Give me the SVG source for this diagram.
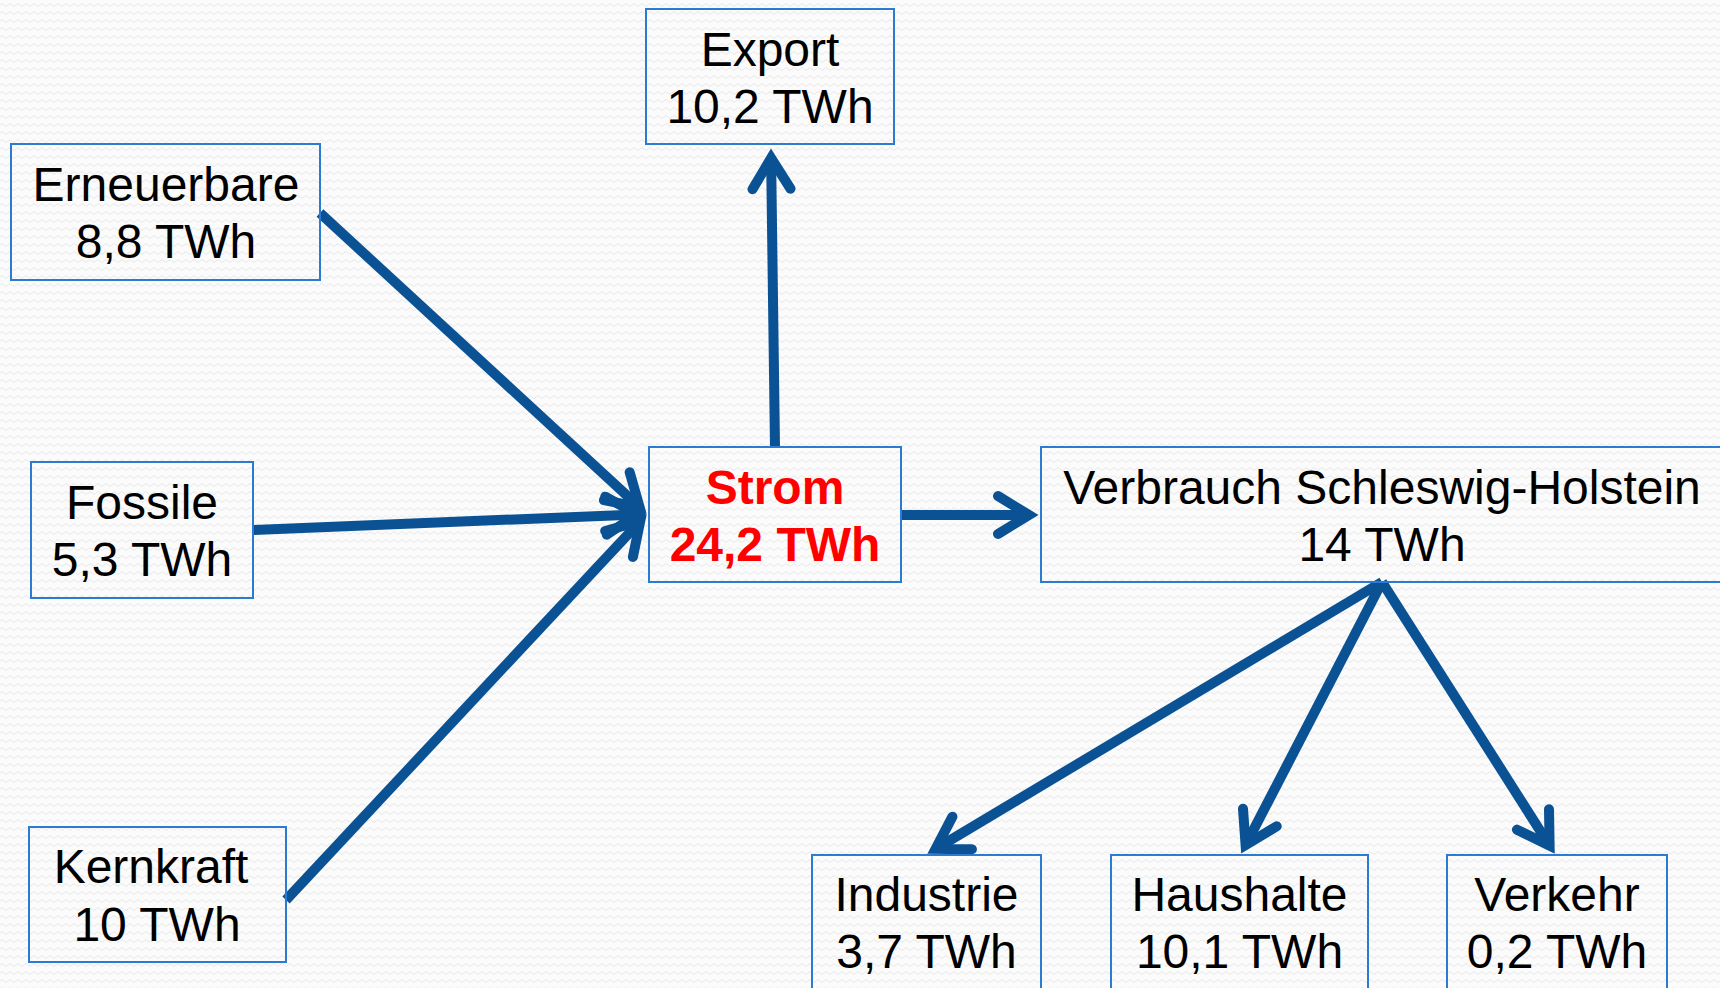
<svg xmlns="http://www.w3.org/2000/svg" width="1720" height="988" viewBox="0 0 1720 988">
<style>
.box{fill:none;stroke:#2b7bd3;stroke-width:2}
.t{font-family:"Liberation Sans",Arial,sans-serif;font-size:48px;fill:#000;text-anchor:middle}
.red{fill:#ff0000;font-weight:bold}
.con{stroke:#0a5294;stroke-width:10;fill:none;stroke-linecap:butt}
</style>
<defs>
<pattern id="bg" width="8" height="8" patternUnits="userSpaceOnUse">
<rect width="8" height="8" fill="#fbfbfb"/>
<path d="M0,5 Q2,2 4,5 T8,5" fill="none" stroke="#e8e8e8" stroke-width="1"/>
</pattern>
<marker id="ah" markerUnits="userSpaceOnUse" viewBox="-45 -30 70 60" refX="0" refY="0" markerWidth="70" markerHeight="60" orient="auto" overflow="visible">
<path d="M-31,-19 L0,0 L-31,19" fill="none" stroke="#0a5294" stroke-width="10" stroke-linecap="round" stroke-linejoin="miter" stroke-miterlimit="10"/>
</marker>
</defs>
<rect width="1720" height="988" fill="url(#bg)"/>

<g id="connectors">
<line class="con" x1="320" y1="213" x2="639.6" y2="507.2" marker-end="url(#ah)"/>
<line class="con" x1="253" y1="530" x2="637" y2="514.4" marker-end="url(#ah)"/>
<line class="con" x1="286" y1="900" x2="640.2" y2="521.3" marker-end="url(#ah)"/>
<line class="con" x1="775" y1="447" x2="771.1" y2="158" marker-end="url(#ah)"/>
<line class="con" x1="901" y1="515" x2="1029" y2="515" marker-end="url(#ah)"/>
<line class="con" x1="1382" y1="582" x2="935.6" y2="848.9" marker-end="url(#ah)"/>
<line class="con" x1="1382" y1="582" x2="1245.6" y2="845.1" marker-end="url(#ah)"/>
<line class="con" x1="1382" y1="582" x2="1549.6" y2="845.6" marker-end="url(#ah)"/>
</g>

<g id="export">
<rect class="box" x="646" y="9" width="248" height="135"/>
<text class="t" x="770" y="66">Export</text>
<text class="t" x="770" y="123">10,2 TWh</text>
</g>
<g id="erneuerbare">
<rect class="box" x="11" y="144" width="309" height="136"/>
<text class="t" x="166" y="201">Erneuerbare</text>
<text class="t" x="166" y="258">8,8 TWh</text>
</g>
<g id="fossile">
<rect class="box" x="31" y="462" width="222" height="136"/>
<text class="t" x="142" y="519">Fossile</text>
<text class="t" x="142" y="576">5,3 TWh</text>
</g>
<g id="kernkraft">
<rect class="box" x="29" y="827" width="257" height="135"/>
<text class="t" x="151" y="883">Kernkraft</text>
<text class="t" x="157" y="941">10 TWh</text>
</g>
<g id="strom">
<rect class="box" x="649" y="447" width="252" height="135"/>
<text class="t red" x="775" y="504">Strom</text>
<text class="t red" x="775" y="561">24,2 TWh</text>
</g>
<g id="verbrauch">
<rect class="box" x="1041" y="447" width="692" height="135"/>
<text class="t" x="1382" y="504">Verbrauch Schleswig-Holstein</text>
<text class="t" x="1382" y="561">14 TWh</text>
</g>
<g id="industrie">
<rect class="box" x="812" y="855" width="229" height="145"/>
<text class="t" x="926.5" y="911">Industrie</text>
<text class="t" x="926.5" y="968">3,7 TWh</text>
</g>
<g id="haushalte">
<rect class="box" x="1111" y="855" width="257" height="145"/>
<text class="t" x="1239.5" y="911">Haushalte</text>
<text class="t" x="1239.5" y="968">10,1 TWh</text>
</g>
<g id="verkehr">
<rect class="box" x="1447" y="855" width="220" height="145"/>
<text class="t" x="1557" y="911">Verkehr</text>
<text class="t" x="1557" y="968">0,2 TWh</text>
</g>
</svg>
